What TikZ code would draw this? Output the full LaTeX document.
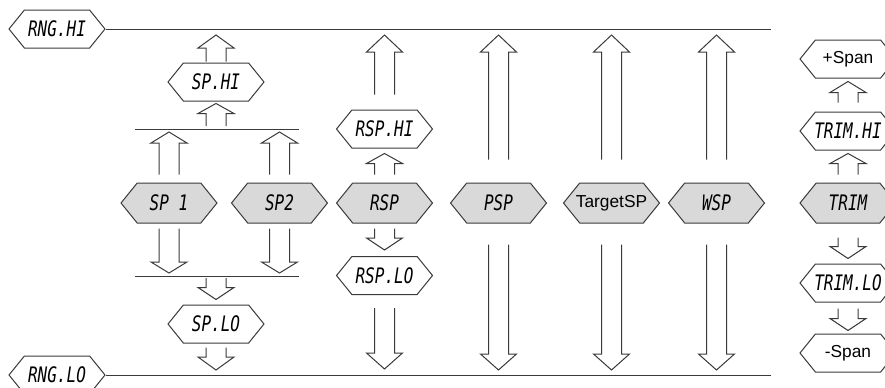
\documentclass[tikz,border=0pt]{standalone}
\usepackage{fontspec}
\usepackage{tikz}
\usetikzlibrary{calc,shapes.symbols}
\newfontfamily\lcdfont[FakeStretch=0.75,ItalicFont={DejaVu Sans Mono Oblique}]{DejaVu Sans Mono}
\newfontfamily\arialfont{Liberation Sans}
\definecolor{ink}      {HTML}{3A3A3A}
\definecolor{panelgray}{HTML}{D9D9D9}
\tikzset{
  hexbox/.style   ={signal, signal to=west and east, signal pointer angle=102,
                    draw=ink, fill=white, line width=0.75pt,
                    minimum width=72pt, minimum height=28.5pt, inner sep=0pt,
                    font=\lcdfont\itshape\fontsize{16}{18}\selectfont},
  sphex/.style    ={hexbox, fill=panelgray, minimum height=30pt},
  arialtext/.style={font=\arialfont\fontsize{13}{15}\selectfont},
  hollow/.style   ={draw=ink, line width=0.75pt, line join=miter},
  rail/.style     ={draw=ink, line width=0.75pt},
}
\newcommand{\liftarr}[5][9pt]{%
  \draw[hollow] let \p1=(#2), \p2=(#3) in
    (\x1-7.5pt,\y1+#4) -- (\x1-7.5pt,\y2-#5-#1) -- (\x1-13.5pt,\y2-#5-#1)
    -- (\x1,\y2-#5) -- (\x1+13.5pt,\y2-#5-#1) -- (\x1+7.5pt,\y2-#5-#1) -- (\x1+7.5pt,\y1+#4);}
\newcommand{\droparr}[5][9pt]{%
  \draw[hollow] let \p1=(#2), \p2=(#3) in
    (\x1-7.5pt,\y1-#4) -- (\x1-7.5pt,\y2+#5+#1) -- (\x1-13.5pt,\y2+#5+#1)
    -- (\x1,\y2+#5) -- (\x1+13.5pt,\y2+#5+#1) -- (\x1+7.5pt,\y2+#5+#1) -- (\x1+7.5pt,\y1-#4);}
\begin{document}
\begin{tikzpicture}[x=0.75pt,y=-0.75pt]
    \useasboundingbox (0,0) rectangle (885,387);

    \node[hexbox] (rnghi) at (57,29)  {RNG.HI};
    \node[hexbox] (rnglo) at (57,375) {RNG.LO};
    \coordinate (railhi) at (771,29);
    \coordinate (raillo) at (771,375);
    \draw[rail] (rnghi.east) -- (railhi);
    \draw[rail] (rnglo.east) -- (raillo);

    \node[hexbox] (sphi) at (216,82)    {SP.HI};
    \node[sphex]  (sp1)  at (169,203)   {SP 1};
    \node[sphex]  (sp2)  at (279.5,203) {SP2};
    \node[hexbox] (splo) at (216,324)   {SP.LO};
    \coordinate (barhiL) at (135,129);
    \coordinate (barhiR) at (299,129);
    \coordinate (barloL) at (135,276);
    \coordinate (barloR) at (299,276);
    \draw[rail] (barhiL) -- (barhiR);
    \draw[rail] (barloL) -- (barloR);

    \node[hexbox] (rsphi) at (384.5,129)   {RSP.HI};
    \node[sphex]  (rsp)   at (384.5,203)   {RSP};
    \node[hexbox] (rsplo) at (384.5,275.5) {RSP.LO};

    \node[sphex]           (psp) at (498.5,203) {PSP};
    \node[sphex,arialtext] (tsp) at (611.5,203) {\makebox[0pt]{TargetSP}};
    \node[sphex]           (wsp) at (716.5,203) {WSP};

    \node[hexbox,arialtext] (spanup) at (848,59)  {+Span};
    \node[hexbox]           (trimhi) at (848,131) {\makebox[0pt]{TRIM.HI}};
    \node[sphex]            (trim)   at (848,203) {TRIM};
    \node[hexbox]           (trimlo) at (848,283) {\makebox[0pt]{TRIM.LO}};
    \node[hexbox,arialtext] (spandn) at (848,353) {-Span};

    \liftarr[9.75pt]{sphi.north}{railhi}{0.75pt}{4.5pt}
    \liftarr[7.5pt]{sphi.south|-barhiL}{sphi.south}{2.25pt}{1.5pt}
    \liftarr[8.25pt]{sp1.north}{barhiL}{6pt}{2.25pt}
    \liftarr[8.25pt]{sp2.north}{barhiL}{6pt}{2.25pt}
    \droparr[8.25pt]{sp1.south}{barloL}{3.75pt}{2.25pt}
    \droparr[8.25pt]{sp2.south}{barloL}{3.75pt}{2.25pt}
    \droparr[9pt]{splo.north|-barloL}{splo.north}{1.5pt}{3.75pt}
    \droparr[9.75pt]{splo.south}{raillo}{3pt}{3.75pt}

    \liftarr[12.75pt]{rsphi.north}{railhi}{11.25pt}{4.5pt}
    \liftarr[7.5pt]{rsp.north}{rsphi.south}{6pt}{3.75pt}
    \droparr[9pt]{rsp.south}{rsplo.north}{3.75pt}{4.5pt}
    \droparr[12pt]{rsplo.south}{raillo}{9.75pt}{4.5pt}

    \liftarr[12.75pt]{psp.north}{railhi}{17.25pt}{4.5pt}
    \droparr[12pt]{psp.south}{raillo}{15.75pt}{3.75pt}
    \liftarr[12.75pt]{tsp.north}{railhi}{17.25pt}{4.5pt}
    \droparr[12pt]{tsp.south}{raillo}{15.75pt}{3.75pt}
    \liftarr[12.75pt]{wsp.north}{railhi}{17.25pt}{4.5pt}
    \droparr[12pt]{wsp.south}{raillo}{15.75pt}{3.75pt}

    \liftarr[8.25pt]{trimhi.north}{spanup.south}{6.75pt}{2.25pt}
    \liftarr[7.5pt]{trim.north}{trimhi.south}{6pt}{2.25pt}
    \droparr[9pt]{trim.south}{trimlo.north}{10.5pt}{3.75pt}
    \droparr[9pt]{trimlo.south}{spandn.north}{4.5pt}{2.25pt}
\end{tikzpicture}
\end{document}
